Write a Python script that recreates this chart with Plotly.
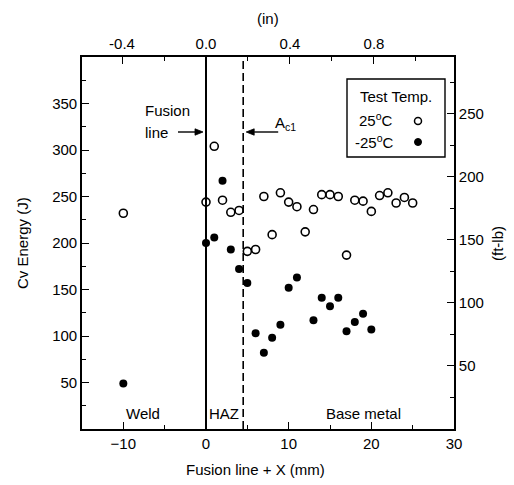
import plotly.graph_objects as go

# ---------------- data ----------------
x_25 = [-10, 0, 1, 2, 3, 4, 5, 6, 7, 8, 9, 10, 11, 12, 13, 14, 15, 16, 17, 18, 19, 20, 21, 22, 23, 24, 25]
cv_25 = [232, 244, 304, 246, 233, 235, 191, 193, 250, 209, 254, 244, 239, 212, 236, 252, 252, 250, 187, 246, 245, 234, 251, 254, 243, 249, 243]

x_m25 = [-10, 0, 1, 2, 3, 4, 5, 6, 7, 8, 9, 10, 11, 13, 14, 15, 16, 17, 18, 19, 20]
cv_m25 = [49, 200, 206, 267, 193, 172, 157, 103, 82, 98, 112, 152, 163, 117, 141, 132, 141, 105, 115, 124, 107]

fusion_line_x = 0.0
ac1_x = 4.5

x_range_mm = [-15, 30]
y_range_j = [0, 400]
J_PER_FTLB = 1.3558179483314004
MM_PER_IN = 25.4

y_ticks_j = [50, 100, 150, 200, 250, 300, 350]
y_minor_j = [25, 75, 125, 175, 225, 275, 325, 375]
y_ticks_ftlb = [50, 100, 150, 200, 250]
y_minor_ftlb = [25, 75, 125, 175, 225, 275]
x_ticks_in = [-0.4, 0.0, 0.4, 0.8]
x_ticklabels_in = ["-0.4", "0.0", "0.4", "0.8"]
x_minor_in = [-0.2, 0.2, 0.6, 1.0]

FONT = "Liberation Sans, Arial, Helvetica, sans-serif"

# ---------------- layout geometry (pixels) ----------------
W, H = 514, 485
L, R, T, B = 82, 454, 57, 429
PW, PH = R - L, B - T


def xp(px):
    return (px - L) / PW


def yp(py):
    return (B - py) / PH


def x_mm_to_px(mm):
    return L + (mm - x_range_mm[0]) / (x_range_mm[1] - x_range_mm[0]) * PW


fig = go.Figure()

fig.add_trace(go.Scatter(
    x=x_25, y=cv_25, mode="markers", name="25°C",
    marker=dict(symbol="circle-open", size=8, color="black", line=dict(width=1.6, color="black")),
    showlegend=False,
))
fig.add_trace(go.Scatter(
    x=x_m25, y=cv_m25, mode="markers", name="-25°C",
    marker=dict(symbol="circle", size=8, color="black"),
    showlegend=False,
))
# dummy trace so the secondary axes are drawn
fig.add_trace(go.Scatter(x=[None], y=[None], xaxis="x2", yaxis="y2",
                         showlegend=False, hoverinfo="skip"))

axis_common = dict(
    showline=True, linecolor="black", linewidth=1.6,
    ticks="inside", ticklen=7, tickwidth=1.4, tickcolor="black",
    showgrid=False, zeroline=False, automargin=False,
    tickfont=dict(family=FONT, size=15, color="black"),
)
minor_common = dict(ticks="inside", ticklen=4, tickwidth=1.2, tickcolor="black", showgrid=False)

fig.update_layout(
    template="none",
    width=W, height=H,
    margin=dict(l=L, r=W - R, t=T, b=H - B, pad=0, autoexpand=False),
    paper_bgcolor="white", plot_bgcolor="white",
    font=dict(family=FONT, size=15, color="black"),
    showlegend=False,
    xaxis=dict(
        range=x_range_mm, tickmode="linear", tick0=0, dtick=10,
        minor=dict(dtick=5, tick0=0, **minor_common),
        **axis_common,
    ),
    yaxis=dict(
        range=y_range_j, tickmode="array", tickvals=y_ticks_j,
        minor=dict(tickvals=y_minor_j, **minor_common),
        **axis_common,
    ),
    xaxis2=dict(
        overlaying="x", side="top", anchor="y2",
        range=[x_range_mm[0] / MM_PER_IN, x_range_mm[1] / MM_PER_IN],
        tickmode="array", tickvals=x_ticks_in, ticktext=x_ticklabels_in,
        minor=dict(tickvals=x_minor_in, **minor_common),
        **axis_common,
    ),
    yaxis2=dict(
        overlaying="y", side="right", anchor="x2",
        range=[y_range_j[0] / J_PER_FTLB, y_range_j[1] / J_PER_FTLB],
        tickmode="array", tickvals=y_ticks_ftlb,
        minor=dict(tickvals=y_minor_ftlb, **minor_common),
        **axis_common,
    ),
)

# vertical boundary lines
fig.add_shape(type="line", xref="x", yref="paper", x0=fusion_line_x, x1=fusion_line_x, y0=0, y1=1,
              line=dict(color="black", width=2))
fig.add_shape(type="line", xref="x", yref="paper", x0=ac1_x, x1=ac1_x, y0=0, y1=1,
              line=dict(color="black", width=1.6, dash="8px,4px"))


def arrow(tip_px, tail_px, y_px):
    """Horizontal arrow drawn as shapes (line + filled triangle head)."""
    d = 1 if tip_px > tail_px else -1
    head = 8
    half = 3.2
    base = tip_px - d * head
    fig.add_shape(type="line", xref="paper", yref="paper",
                  x0=xp(tail_px), x1=xp(base), y0=yp(y_px), y1=yp(y_px),
                  line=dict(color="black", width=1.4))
    path = "M {:.5f},{:.5f} L {:.5f},{:.5f} L {:.5f},{:.5f} Z".format(
        xp(tip_px), yp(y_px), xp(base), yp(y_px - half), xp(base), yp(y_px + half))
    fig.add_shape(type="path", xref="paper", yref="paper", path=path,
                  fillcolor="black", line=dict(color="black", width=0.8))


fx = x_mm_to_px(fusion_line_x)
ax_ = x_mm_to_px(ac1_x)
arrow(fx - 3, fx - 28, 132)
arrow(ax_ + 3, ax_ + 35, 132)

ann = []
txt = dict(family=FONT, size=15, color="black")

# axis titles
ann.append(dict(text="Fusion line + X (mm)", xref="paper", yref="paper", x=xp(255), y=yp(470),
                showarrow=False, font=txt, xanchor="center", yanchor="middle"))
ann.append(dict(text="(in)", xref="paper", yref="paper", x=xp(268), y=yp(18),
                showarrow=False, font=txt, xanchor="center", yanchor="middle"))
ann.append(dict(text="Cv Energy (J)", xref="paper", yref="paper", x=xp(22), y=yp(243),
                showarrow=False, font=txt, textangle=-90, xanchor="center", yanchor="middle"))
ann.append(dict(text="(ft-lb)", xref="paper", yref="paper", x=xp(497), y=yp(243),
                showarrow=False, font=txt, textangle=-90, xanchor="center", yanchor="middle"))

# region labels
ann.append(dict(text="Weld", xref="paper", yref="paper", x=xp(143), y=yp(413),
                showarrow=False, font=txt, xanchor="center", yanchor="middle"))
ann.append(dict(text="HAZ", xref="paper", yref="paper", x=xp(224), y=yp(413),
                showarrow=False, font=txt, xanchor="center", yanchor="middle"))
ann.append(dict(text="Base metal", xref="paper", yref="paper", x=xp(363), y=yp(413),
                showarrow=False, font=txt, xanchor="center", yanchor="middle"))

# fusion line / Ac1 labels
ann.append(dict(text="Fusion", xref="paper", yref="paper", x=xp(143), y=yp(110),
                showarrow=False, font=txt, xanchor="left", yanchor="middle"))
ann.append(dict(text="line", xref="paper", yref="paper", x=xp(143), y=yp(132),
                showarrow=False, font=txt, xanchor="left", yanchor="middle"))
ann.append(dict(text="A<sub>c1</sub>", xref="paper", yref="paper", x=xp(273), y=yp(124),
                showarrow=False, font=txt, xanchor="left", yanchor="middle"))

# legend box (custom, markers to the right of labels)
fig.add_shape(type="rect", xref="paper", yref="paper", x0=xp(347), x1=xp(445), y0=yp(157), y1=yp(79),
              line=dict(color="black", width=1.4), fillcolor="white", layer="above")
ann.append(dict(text="Test Temp.", xref="paper", yref="paper", x=xp(396), y=yp(96),
                showarrow=False, font=txt, xanchor="center", yanchor="middle"))
ann.append(dict(text="25<sup>o</sup>C", xref="paper", yref="paper", x=xp(357), y=yp(120),
                showarrow=False, font=txt, xanchor="left", yanchor="middle"))
ann.append(dict(text="-25<sup>o</sup>C", xref="paper", yref="paper", x=xp(353), y=yp(141),
                showarrow=False, font=txt, xanchor="left", yanchor="middle"))
r = 3.5
fig.add_shape(type="circle", xref="paper", yref="paper", x0=xp(418 - r), x1=xp(418 + r),
              y0=yp(121 + r), y1=yp(121 - r), line=dict(color="black", width=1.5), layer="above")
fig.add_shape(type="circle", xref="paper", yref="paper", x0=xp(418 - r), x1=xp(418 + r),
              y0=yp(142 + r), y1=yp(142 - r), line=dict(color="black", width=1.0),
              fillcolor="black", layer="above")

fig.update_layout(annotations=ann)

fig.write_html(
    "out.html",
    config={"displayModeBar": False},
    post_script="document.body.style.margin='0';document.body.style.padding='0';",
)
